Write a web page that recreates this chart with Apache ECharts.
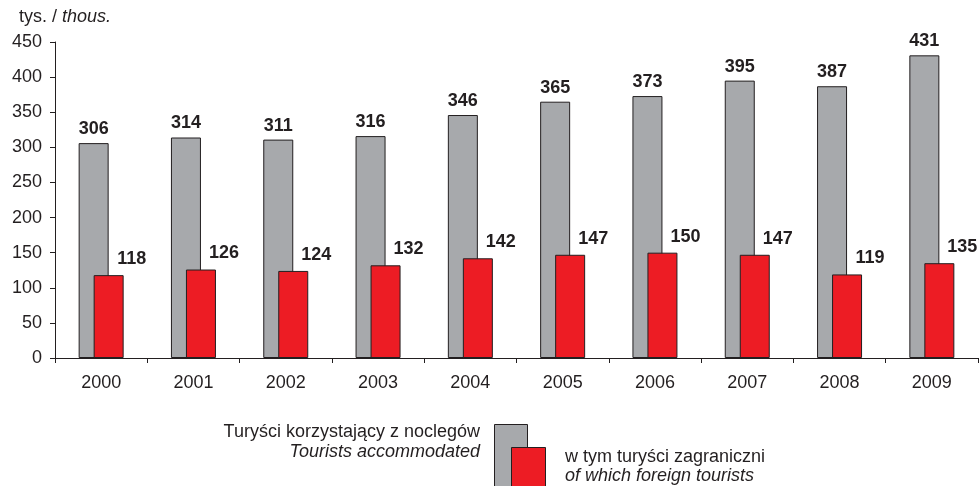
<!DOCTYPE html>
<html>
<head>
<meta charset="utf-8">
<script src="https://cdn.jsdelivr.net/npm/echarts@6/dist/echarts.min.js"></script>
<style>
  html, body { margin: 0; padding: 0; background: #fff; }
  #chart { width: 979px; height: 486px; }
</style>
</head>
<body>
<div id="chart"></div>
<script>
// dane z wykresu (tys.)
const years = ['2000', '2001', '2002', '2003', '2004', '2005', '2006', '2007', '2008', '2009'];
const tourists = [306, 314, 311, 316, 346, 365, 373, 395, 387, 431];
const foreign = [118, 126, 124, 132, 142, 147, 150, 147, 119, 135];
const yTicks = [0, 50, 100, 150, 200, 250, 300, 350, 400, 450];

const ink = '#231f20';
const font = '"Liberation Sans", Arial, sans-serif';

let chart = echarts.init(document.getElementById('chart'), null, { renderer: 'canvas' });

let option = {
  animation: false,
  textStyle: { fontFamily: font, color: ink },
  grid: { left: 55, right: 1, top: 42, bottom: 128 },
  xAxis: {
    type: 'category',
    data: years,
    axisLine: { lineStyle: { color: ink, width: 1 } },
    axisTick: { show: true, length: 5, lineStyle: { color: ink } },
    axisLabel: { color: ink, fontSize: 18, margin: 16, fontFamily: font }
  },
  yAxis: {
    type: 'value',
    min: yTicks[0],
    max: yTicks[yTicks.length - 1],
    interval: 50,
    splitLine: { show: false },
    axisLine: { show: true, lineStyle: { color: ink, width: 1 } },
    axisTick: { show: true, length: 5, lineStyle: { color: ink } },
    axisLabel: { color: ink, fontSize: 18, margin: 13, fontFamily: font }
  },
  series: [
    {
      name: 'Turyści korzystający z noclegów',
      type: 'bar',
      data: tourists,
      barWidth: 30,
      barGap: '-50%',
      itemStyle: { color: '#a7a9ac', borderColor: ink, borderWidth: 1 },
      label: {
        show: true, position: 'top', distance: 5,
        color: ink, fontSize: 18, fontWeight: 'bold', fontFamily: font
      },
      z: 1
    },
    {
      name: 'w tym turyści zagraniczni',
      type: 'bar',
      data: foreign,
      barWidth: 30,
      itemStyle: { color: '#ed1c24', borderColor: ink, borderWidth: 1 },
      label: {
        show: true, position: 'top', distance: 7, offset: [23, 0],
        color: ink, fontSize: 18, fontWeight: 'bold', fontFamily: font
      },
      z: 2
    }
  ],
  graphic: [
    // jednostka
    {
      type: 'text', left: 19, top: 8,
      style: {
        text: '{a|tys. / }{b|thous.}',
        rich: {
          a: { fontSize: 18, fontFamily: font, fill: ink },
          b: { fontSize: 18, fontFamily: font, fill: ink, fontStyle: 'italic' }
        }
      }
    },
    // legenda
    {
      type: 'text', right: 499, top: 423,
      style: { text: 'Turyści korzystający z noclegów', fontSize: 18, fontFamily: font, fill: ink, align: 'right' }
    },
    {
      type: 'text', right: 499, top: 443,
      style: { text: 'Tourists accommodated', fontSize: 18, fontFamily: font, fill: ink, fontStyle: 'italic', align: 'right' }
    },
    {
      type: 'rect', shape: { x: 494.5, y: 424.5, width: 33, height: 70 },
      style: { fill: '#a7a9ac', stroke: ink, lineWidth: 1 }
    },
    {
      type: 'rect', shape: { x: 511.5, y: 447.5, width: 34, height: 50 },
      style: { fill: '#ed1c24', stroke: ink, lineWidth: 1 }
    },
    {
      type: 'text', left: 565, top: 448,
      style: { text: 'w tym turyści zagraniczni', fontSize: 18, fontFamily: font, fill: ink }
    },
    {
      type: 'text', left: 565, top: 467,
      style: { text: 'of which foreign tourists', fontSize: 18, fontFamily: font, fill: ink, fontStyle: 'italic' }
    }
  ]
};

chart.setOption(option);
</script>
</body>
</html>
